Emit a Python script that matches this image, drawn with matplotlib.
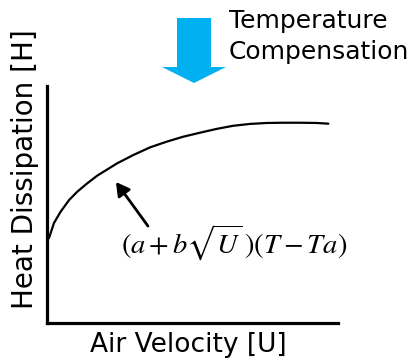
import matplotlib
matplotlib.use("Agg")
import matplotlib.pyplot as plt
from matplotlib.patches import Polygon

# Data (arbitrary units: air velocity U vs heat dissipation H)
velocity = [0.0, 0.07, 0.24, 0.47, 0.76, 1.04, 1.38, 1.73, 2.19, 2.40, 2.97, 3.54,
            4.11, 4.68, 5.26, 5.83, 6.39, 6.98, 7.55, 8.11, 8.69, 9.27, 9.67]
heat = [3.50, 3.59, 4.22, 4.70, 5.19, 5.54, 5.89, 6.22, 6.57, 6.73, 7.09, 7.41,
        7.65, 7.86, 8.03, 8.19, 8.32, 8.40, 8.44, 8.45, 8.45, 8.44, 8.41]
x_label = "Air Velocity [U]"
y_label = "Heat Dissipation [H]"
top_label = "Temperature\nCompensation"
formula = r"$(a+b\sqrt{U}\,)(T-Ta)$"

W, H = 419, 358
fig = plt.figure(figsize=(W / 100, H / 100), dpi=100)
plt.rcParams['mathtext.fontset'] = 'stix'

L, R, B, T = 47, 338, 323, 86
ax = fig.add_axes([L / W, (H - B) / H, (R - L) / W, (B - T) / H])
ax.set_xlim(0, 10)
ax.set_ylim(0, 10)
ax.plot(velocity, heat, color='black', lw=1.6, solid_joinstyle='round',
        solid_capstyle='round')
for s in ['top', 'right']:
    ax.spines[s].set_visible(False)
for s in ['left', 'bottom']:
    ax.spines[s].set_linewidth(2.3)
ax.set_xticks([])
ax.set_yticks([])

fig.text(188 / W, 1 - 345 / H, x_label, fontsize=19, family='DejaVu Sans',
         ha='center', va='center')
fig.text(25 / W, 1 - 169 / H, y_label, fontsize=20, family='DejaVu Sans',
         ha='center', va='center', rotation=90)

ax.annotate("", xy=(2.37, 5.95), xytext=(3.47, 4.09),
            arrowprops=dict(arrowstyle='-|>,head_length=0.8,head_width=0.45',
                            color='black', lw=2, shrinkA=0, shrinkB=0))
ax.text(6.42, 3.38, formula, fontsize=20.5, ha='center', va='center')

# Blue block arrow (figure pixel coords)
pts = [(177, 18), (211, 18), (211, 67), (226, 67), (194, 83), (162, 67), (177, 67)]
poly = Polygon([(x / W, 1 - y / H) for x, y in pts], closed=True,
               transform=fig.transFigure, facecolor='#00B0F0', edgecolor='none')
fig.patches.append(poly)

fig.text(229 / W, 1 - 9 / H, top_label, fontsize=18, family='DejaVu Sans',
         ha='left', va='top', linespacing=1.38)

fig.savefig("out.png", dpi=100)
